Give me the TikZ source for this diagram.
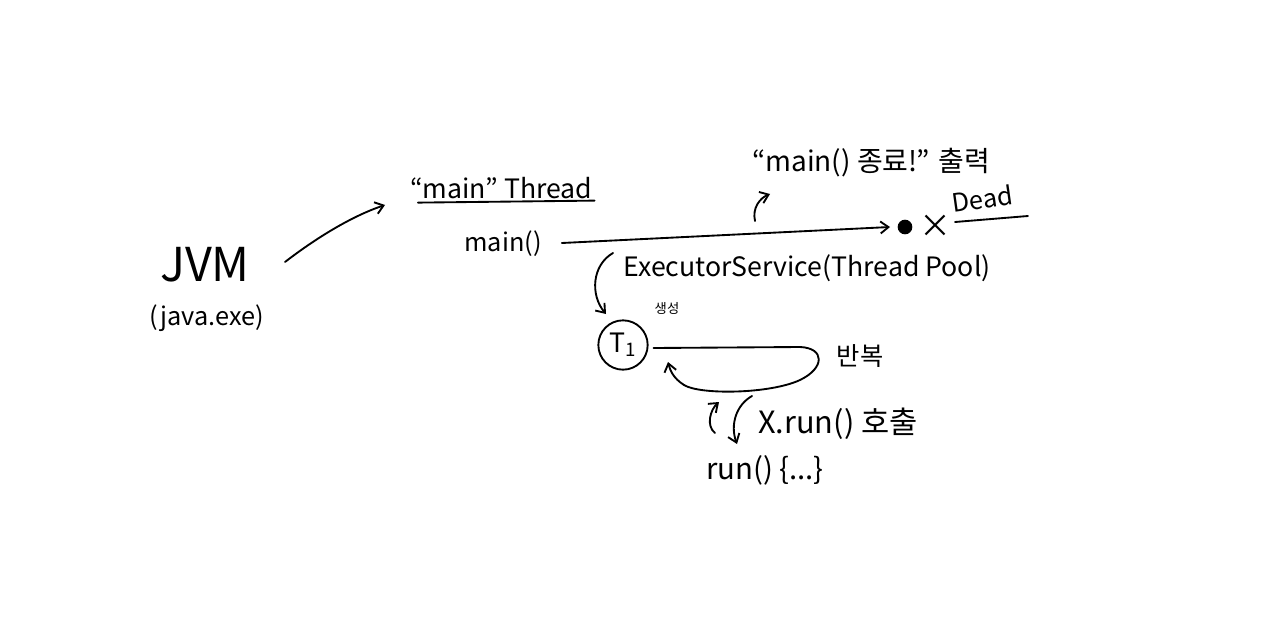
\documentclass[tikz,border=0pt]{standalone}
\usepackage{fontspec}
\setmainfont{Noto Sans CJK KR}
\usetikzlibrary{arrows.meta,calc}
\tikzset{
  pen/.style={line width=1.4pt, line cap=round, line join=round},
  arr/.style={pen, -{Straight Barb[length=6pt,width=9pt]}},
  lbl/.style={inner sep=0pt, text=black},
}
\newcommand{\fs}[1]{\fontsize{#1}{#1}\selectfont}
\begin{document}
\begin{tikzpicture}[x=0.75pt,y=-0.75pt]
\useasboundingbox (0,0) rectangle (1280,635);
\fill[white] (0,0) rectangle (1280,635);
% JVM
\node[lbl, font=\fs{35}] (jvm) at (205,265) {JVM};
\node[lbl, font=\fs{19}] (exe) at (207,318) {(java.exe)};
\coordinate (jvmout) at (285,262);
\node[lbl, font=\fs{20}, anchor=base west] (thr) at (410,198) {“main” Thread};
\draw[pen] ($(thr.south west)+(8,4)$) coordinate (u1) -- ($(thr.south east)+(2,2)$);
\draw[arr] (jvmout) .. controls (320,235) and (355,215) .. (385,205);
% main()
\node[lbl, font=\fs{19}] (mainf) at (503,244) {main()};
\node[circle, fill=black, minimum size=11pt, inner sep=0pt] (dot) at (905,227) {};
\node[lbl, font=\fs{24}] (x) at (935,226) {×};
\node[lbl, font=\fs{19}, anchor=base west, rotate=8] (dead) at (953,213) {Dead};
\draw[pen] (955,222) -- (1028,216);
\draw[arr] (mainf.east)++(20,-1) coordinate (ms) -- (890,227);
% printed message
\node[lbl, font=\fs{21}] (msg) at (871,163) {“main() 종료!” 출력};
\draw[arr] (755,221) .. controls (752,208) and (760,198) .. (770,194);
% executor
\node[lbl, font=\fs{20}] (exec) at (807,268) {ExecutorService(Thread Pool)};
\node[lbl, font=\fs{10}] (gen) at (667,308) {생성};
\node[circle, draw=black, pen, minimum size=37pt, inner sep=0pt, font=\fs{20}] (t) at (623,345) {T\textsubscript{1}};
\draw[arr] (613,253) .. controls (592,265) and (590,295) .. (606,314);
% loop
\node[lbl, font=\fs{19}] (rep) at (860,356) {반복};
\draw[pen] (t.east)++(5,3) -- (800,347) .. controls (825,348) and (825,368) .. (800,380)
  .. controls (770,394) and (700,395) .. (684,385);
\draw[arr] (684,385) .. controls (673,378) and (670,370) .. (668,362);
% run call
\node[lbl, font=\fs{23}] (call) at (838,424) {X.run() 호출};
\node[lbl, font=\fs{22}] (run) at (765,470) {run() \{...\}};
\draw[arr] (715,433) .. controls (706,426) and (710,410) .. (719,402);
\draw[arr] (752,396) .. controls (736,405) and (730,425) .. (737,444);
\end{tikzpicture}
\end{document}
